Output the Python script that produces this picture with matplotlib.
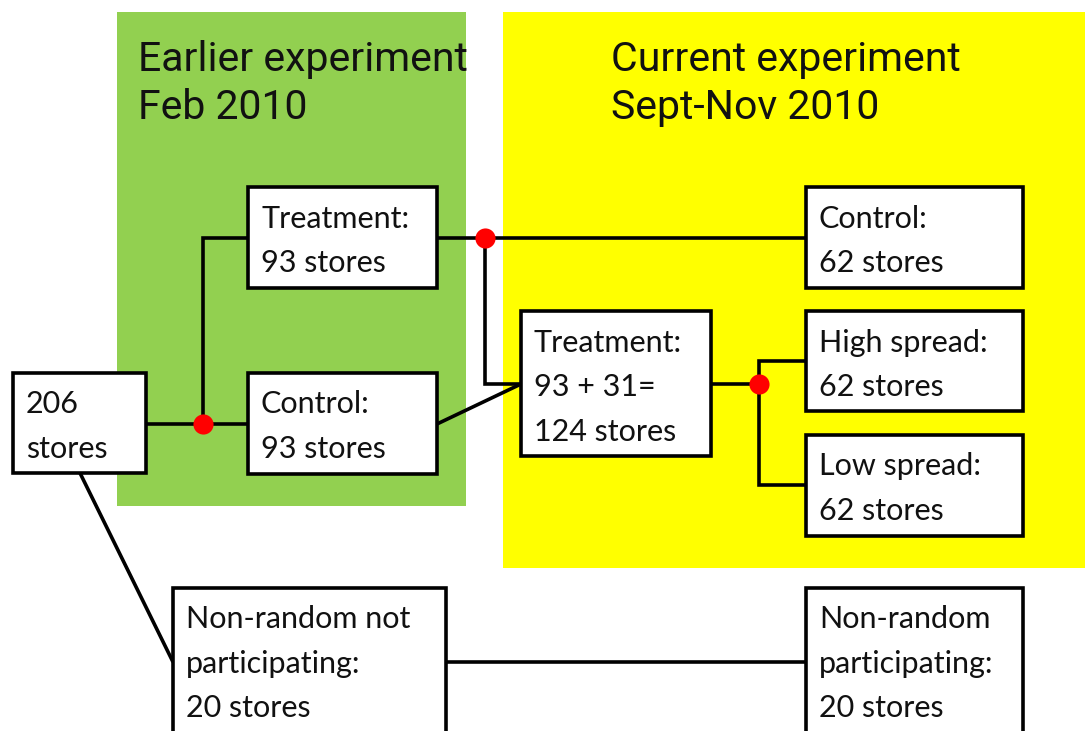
import matplotlib
matplotlib.use("Agg")
import matplotlib.pyplot as plt
from matplotlib.patches import Rectangle

# ---- data (text content) ----
panel_titles = [["Earlier experiment", "Feb 2010"], ["Current experiment", "Sept-Nov 2010"]]
box_labels = {
    "all":      ["206", "stores"],
    "treat93":  ["Treatment:", "93 stores"],
    "ctrl93":   ["Control:", "93 stores"],
    "ctrl62":   ["Control:", "62 stores"],
    "treat124": ["Treatment:", "93 + 31=", "124 stores"],
    "high":     ["High spread:", "62 stores"],
    "low":      ["Low spread:", "62 stores"],
    "nonpart":  ["Non-random not", "participating:", "20 stores"],
    "part":     ["Non-random", "participating:", "20 stores"],
}

# ---- layout (pixel space) ----
panels = [(117, 12, 466, 506, "#92d050"), (503, 12, 1085, 568, "#ffff00")]
title_pos = [(138, 71), (611, 71)]
boxes = {  # x0, y0, x1, y1, first baseline
    "all":      (13, 373, 146, 473, 413),
    "treat93":  (248, 187, 437, 288, 228),
    "ctrl93":   (248, 373, 437, 474, 413),
    "ctrl62":   (806, 187, 1023, 288, 228),
    "treat124": (521, 311, 711, 456, 352),
    "high":     (806, 311, 1023, 411, 352),
    "low":      (806, 435, 1023, 536, 475),
    "nonpart":  (173, 588, 446, 760, 628),
    "part":     (806, 588, 1023, 760, 628),
}
connectors = [
    [(146, 424), (248, 424)],
    [(203, 424), (203, 238), (248, 238)],
    [(437, 238), (806, 238)],
    [(485, 238), (485, 384), (521, 384)],
    [(437, 424), (521, 384)],
    [(711, 384), (759, 384)],
    [(806, 361), (759, 361), (759, 485), (806, 485)],
    [(80, 473), (173, 662)],
    [(446, 662), (806, 662)],
]
dots = [(203, 424), (485, 238), (759, 384)]
pitch = 44.5

fig = plt.figure(figsize=(10.85, 7.31), dpi=100)
ax = fig.add_axes([0, 0, 1, 1])
ax.set_xlim(0, 1085)
ax.set_ylim(731, 0)
ax.axis("off")

for x0, y0, x1, y1, c in panels:
    ax.add_patch(Rectangle((x0, y0), x1 - x0, y1 - y0, facecolor=c, edgecolor="none", zorder=0))

title_font = ["Roboto", "DejaVu Sans"]
for (tx, ty), lines in zip(title_pos, panel_titles):
    for i, s in enumerate(lines):
        ax.text(tx, ty + i * 48, s, fontsize=29.5, family=title_font, va="baseline", ha="left",
                color="#111111", zorder=5)

for pts in connectors:
    xs = [p[0] for p in pts]
    ys = [p[1] for p in pts]
    ax.plot(xs, ys, color="black", lw=2.6, solid_capstyle="butt", solid_joinstyle="miter", zorder=2)

box_font = ["Lato", "DejaVu Sans"]
for key, (x0, y0, x1, y1, b) in boxes.items():
    ax.add_patch(Rectangle((x0, y0), x1 - x0, y1 - y0, facecolor="white", edgecolor="black",
                           lw=2.6, zorder=3, clip_on=True))
    for i, s in enumerate(box_labels[key]):
        ax.text(x0 + 13, b + i * pitch, s, fontsize=22, family=box_font, va="baseline",
                ha="left", color="#111111", zorder=5)

for dx, dy in dots:
    ax.plot(dx, dy, "o", color="#ff0000", markersize=14.5, markeredgewidth=0, zorder=4)

fig.savefig("out.png", dpi=100)
